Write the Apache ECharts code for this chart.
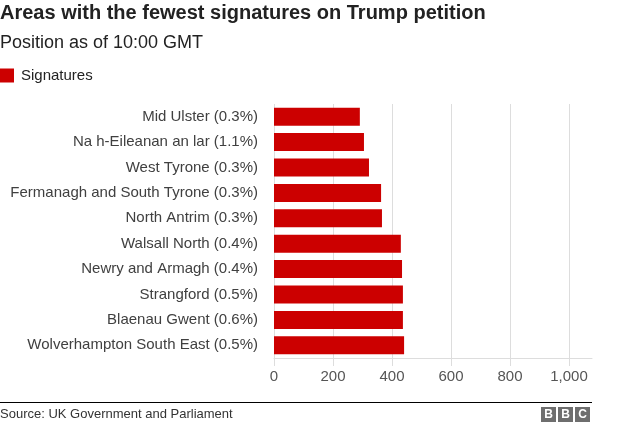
<!DOCTYPE html>
<html>
<head>
<meta charset="utf-8">
<script src="https://cdn.jsdelivr.net/npm/echarts@6/dist/echarts.min.js"></script>
<style>
html,body{margin:0;padding:0;background:#fff;}
#chart{width:624px;height:426px;}
</style>
</head>
<body>
<div id="chart"></div>
<script>
const categories = [
  'Mid Ulster (0.3%)',
  'Na h-Eileanan an lar (1.1%)',
  'West Tyrone (0.3%)',
  'Fermanagh and South Tyrone (0.3%)',
  'North Antrim (0.3%)',
  'Walsall North (0.4%)',
  'Newry and Armagh (0.4%)',
  'Strangford (0.5%)',
  'Blaenau Gwent (0.6%)',
  'Wolverhampton South East (0.5%)'
];
const signatures = [291, 305, 322, 363, 366, 430, 434, 437, 437, 441];
const tickValues = [0, 200, 400, 600, 800, 1000];

const FONT = '"Liberation Sans", Arial, Helvetica, sans-serif';
const chart = echarts.init(document.getElementById('chart'));
chart.setOption({
  animation: false,
  textStyle: { fontFamily: FONT },
  title: [
    { text: 'Areas with the fewest signatures on Trump petition', left: 0, top: 3, padding: 0,
      textStyle: { fontFamily: FONT, fontSize: 20, fontWeight: 'bold', color: '#222222' } },
    { text: 'Position as of 10:00 GMT', left: 0, top: 34, padding: 0,
      textStyle: { fontFamily: FONT, fontSize: 18, fontWeight: 'normal', color: '#222222' } }
  ],
  legend: {
    left: 0, top: 68, padding: 0,
    itemWidth: 14, itemHeight: 14, itemGap: 10,
    icon: 'rect',
    data: ['Signatures'],
    textStyle: { fontFamily: FONT, fontSize: 15, color: '#222222', padding: [0, 0, 0, 2] }
  },
  grid: { left: 274, right: 32, top: 104, bottom: 68, containLabel: false },
  xAxis: {
    type: 'value', min: 0, max: 1078, interval: 200,
    axisLine: { show: true, lineStyle: { color: '#dddddd', width: 1 } },
    axisTick: { show: true, length: 8, lineStyle: { color: '#dddddd' }, customValues: tickValues },
    axisLabel: { fontFamily: FONT, fontSize: 15, color: '#555555', margin: 11, customValues: tickValues,
      formatter: v => v.toLocaleString('en-US') },
    splitLine: { show: true, lineStyle: { color: ['#dddddd','#dddddd','#dddddd','#dddddd','#dddddd','#dddddd','rgba(0,0,0,0)'], width: 1 } }
  },
  yAxis: {
    type: 'category', data: categories, inverse: true,
    axisLine: { show: false }, axisTick: { show: false },
    axisLabel: { fontFamily: FONT, fontSize: 15, color: '#404040', margin: 16 }
  },
  series: [{
    name: 'Signatures', type: 'bar', data: signatures,
    barWidth: 18,
    itemStyle: { color: '#cc0000' }
  }],
  graphic: [
    { type: 'line', shape: { x1: 0, y1: 402.5, x2: 592, y2: 402.5 }, style: { stroke: '#000', lineWidth: 1 } },
    { type: 'text', left: 0, top: 408, style: { text: 'Source: UK Government and Parliament', font: '13px ' + FONT, fill: '#333333' } },
    { type: 'rect', shape: { x: 541, y: 407, width: 15, height: 15 }, style: { fill: '#6e6e6e' } },
    { type: 'rect', shape: { x: 558, y: 407, width: 15, height: 15 }, style: { fill: '#6e6e6e' } },
    { type: 'rect', shape: { x: 575, y: 407, width: 15, height: 15 }, style: { fill: '#6e6e6e' } },
    { type: 'text', x: 548.5, y: 414.5, style: { text: 'B', font: 'bold 12px ' + FONT, fill: '#fff', align: 'center', verticalAlign: 'middle' } },
    { type: 'text', x: 565.5, y: 414.5, style: { text: 'B', font: 'bold 12px ' + FONT, fill: '#fff', align: 'center', verticalAlign: 'middle' } },
    { type: 'text', x: 582.5, y: 414.5, style: { text: 'C', font: 'bold 12px ' + FONT, fill: '#fff', align: 'center', verticalAlign: 'middle' } }
  ]
});
</script>
</body>
</html>
